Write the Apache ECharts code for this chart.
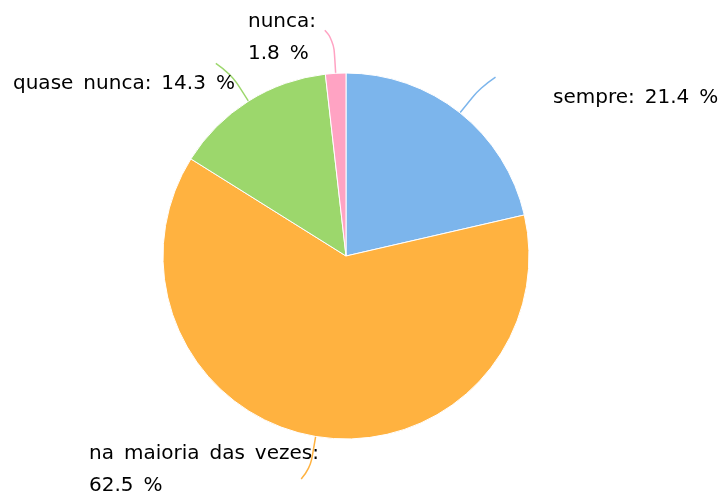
<!DOCTYPE html>
<html>
<head>
<meta charset="utf-8">
<script src="https://cdn.jsdelivr.net/npm/echarts@6/dist/echarts.min.js"></script>
<style>
html,body{margin:0;padding:0;background:#fff;}
#chart{width:721px;height:498px;}
</style>
</head>
<body>
<div id="chart"></div>
<script>
// Data
var categories = ['sempre', 'na maioria das vezes', 'quase nunca', 'nunca'];
var values = [21.4, 62.5, 14.3, 1.8];
var labelTexts = ['sempre: 21.4 %', 'na maioria das vezes:\n62.5 %', 'quase nunca: 14.3 %', 'nunca:\n1.8 %'];

// Styles / layout
var colors = ['#7cb5ec', '#ffb240', '#9cd76c', '#ffa3c3'];
var CX = 346, CY = 256, R = 183;
var labelPos = [[553, 82], [89, 438], [13, 68], [248, 6]];

var total = values.reduce(function (a, b) { return a + b; }, 0);
var mids = [];
(function () {
  var acc = 0;
  for (var i = 0; i < values.length; i++) {
    mids.push((acc + values[i] / 2) / total);
    acc += values[i];
  }
})();

var chart = echarts.init(document.getElementById('chart'));
chart.setOption({
  animation: false,
  backgroundColor: '#fff',
  series: [{
    type: 'pie',
    center: [CX, CY],
    radius: [0, R],
    startAngle: 90,
    clockwise: true,
    data: categories.map(function (c, i) {
      return { name: c, value: values[i], itemStyle: { color: colors[i] } };
    }),
    itemStyle: { borderColor: '#fff', borderWidth: 1 },
    label: {
      show: true,
      position: 'outside',
      formatter: function (p) { return labelTexts[p.dataIndex].replace(/ /g, '\u2002'); },
      fontFamily: 'DejaVu Sans',
      fontSize: 20,
      lineHeight: 32,
      color: '#000',
      overflow: 'none'
    },
    labelLine: { show: true, length: 30, length2: 15, smooth: 0.5, lineStyle: { width: 1.5 } },
    emphasis: { disabled: true },
    labelLayout: function (params) {
      var i = params.dataIndex;
      var th = mids[i] * 2 * Math.PI;
      var dx = Math.sin(th), dy = -Math.cos(th);
      var p0 = [CX + R * dx, CY + R * dy];
      var p1 = [p0[0] + 33 * dx, p0[1] + 33 * dy];
      var p2 = [p1[0] + (dx >= 0 ? 15 : -15) * (Math.abs(dx) < 0.3 ? 0.6 : 1), p1[1] + (dy >= 0 ? 10 : -10)];
      return {
        x: labelPos[i][0],
        y: labelPos[i][1],
        align: 'left',
        verticalAlign: 'top',
        width: 400,
        labelLinePoints: [p0, p1, p2]
      };
    }
  }]
});
</script>
</body>
</html>
